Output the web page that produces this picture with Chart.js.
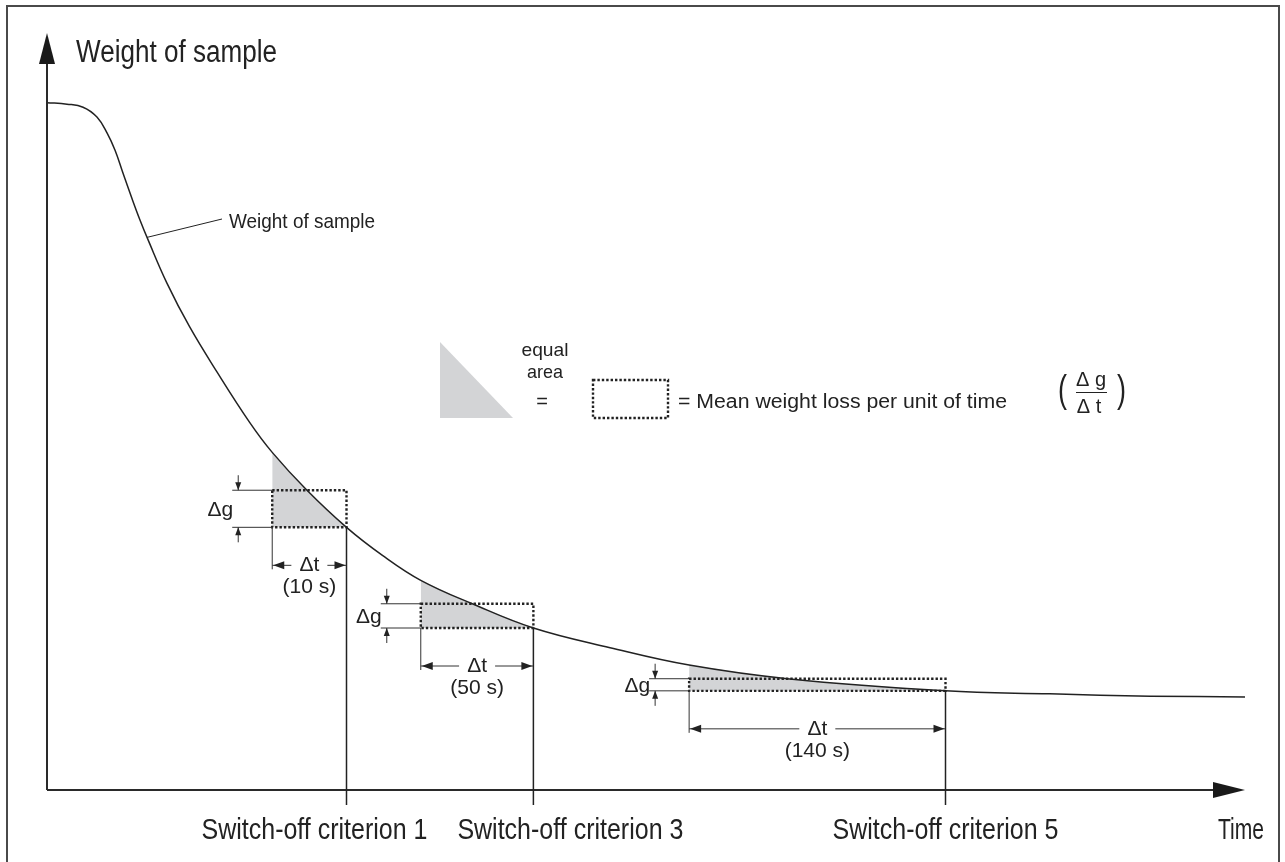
<!DOCTYPE html>
<html>
<head>
<meta charset="utf-8">
<title>Switch-off criteria</title>
<script src="https://cdn.jsdelivr.net/npm/chart.js@4"></script>
<style>
  html, body { margin: 0; padding: 0; background: #fff; }
  #wrap { width: 1285px; height: 862px; position: relative; }
</style>
</head>
<body>
<div id="wrap"><canvas id="chart"></canvas></div>
<script>
// drying curve (time / weight, arbitrary units)
const timeVals = [
  0, 1.67, 3.01, 4.17, 5.01, 5.68, 6.34, 7.10, 7.76, 8.43, 10.0, 11.9,
  14.2, 16.9, 18.8, 21.7, 25.0, 28.0, 31.2, 35.5, 40.6, 47.0, 53.6,
  61.8, 75.0, 83.7, 92.1, 100
];
const weightVals = [
  90.8, 90.6, 90.2, 88.9, 86.8, 84.5, 81.5, 78.1, 75.3, 72.7, 67.0, 61.2,
  55.2, 48.6, 44.6, 39.6, 34.7, 31.0, 27.7, 24.6, 21.4, 18.8, 16.5,
  14.7, 13.1, 12.7, 12.4, 12.3
];

// switch-off criteria
const criteria = [
  'Switch-off criterion 1',
  'Switch-off criterion 3',
  'Switch-off criterion 5'
];
const windowStart = [18.8, 31.2, 53.6];
const windowEnd = [25.0, 40.6, 75.0];
const meanLevel = [39.6, 24.6, 14.7];
const intervalLabels = ['(10 s)', '(50 s)', '(140 s)'];

const curvePoints = timeVals.map((t, i) => ({ x: t, y: weightVals[i] }));
const endLevel = windowEnd.map(t => weightVals[timeVals.indexOf(t)]);

const FONT = '"Liberation Sans", Arial, sans-serif';
const INK = '#222';

const fitText = (ctx, text, x, y, size, width, align) => {
  ctx.save();
  ctx.font = `${size}px ${FONT}`;
  const w = ctx.measureText(text).width;
  const s = width ? width / w : 1;
  ctx.translate(x, y);
  ctx.scale(s, 1);
  ctx.textAlign = align || 'left';
  ctx.textBaseline = 'middle';
  ctx.fillStyle = INK;
  ctx.fillText(text, 0, 0);
  ctx.restore();
};

const line = (ctx, x1, y1, x2, y2) => {
  ctx.beginPath();
  ctx.moveTo(x1, y1);
  ctx.lineTo(x2, y2);
  ctx.stroke();
};

// filled arrow head, tip at (x, y), pointing along (dx, dy)
const head = (ctx, x, y, dx, dy, len, half) => {
  const px = -dy, py = dx;
  ctx.beginPath();
  ctx.moveTo(x, y);
  ctx.lineTo(x - dx * len + px * half, y - dy * len + py * half);
  ctx.lineTo(x - dx * len - px * half, y - dy * len - py * half);
  ctx.closePath();
  ctx.fill();
};

const diagram = {
  id: 'diagram',
  afterDatasetsDraw(chart) {
    const ctx = chart.ctx;
    const xs = chart.scales.x;
    const ys = chart.scales.y;
    const X = v => xs.getPixelForValue(v);
    const Y = v => ys.getPixelForValue(v);

    ctx.save();
    ctx.fillStyle = INK;

    // frame
    ctx.strokeStyle = '#4a4a4a';
    ctx.lineWidth = 2;
    ctx.strokeRect(7, 6, 1272, 900);

    // axes
    const ox = X(0), oy = Y(0);
    ctx.strokeStyle = '#2a2a2a';
    ctx.lineWidth = 2;
    line(ctx, ox, oy, ox, Y(100) + 25);
    line(ctx, ox, oy, X(100) - 25, oy);
    ctx.fillStyle = '#1a1a1a';
    head(ctx, ox, Y(100), 0, -1, 31, 8);
    head(ctx, X(100), oy, 1, 0, 32, 8);

    fitText(ctx, 'Weight of sample', 76, 53, 31, 201, 'left');
    fitText(ctx, 'Time', 1218, 831, 30, 46, 'left');

    // curve label with leader
    ctx.strokeStyle = INK;
    ctx.lineWidth = 1;
    line(ctx, X(8.35), Y(73.0), 222, 219);
    fitText(ctx, 'Weight of sample', 229, 222, 21, 146, 'left');

    // key: triangle = dotted box
    ctx.fillStyle = '#d3d4d6';
    ctx.beginPath();
    ctx.moveTo(440, 342);
    ctx.lineTo(440, 418);
    ctx.lineTo(513, 418);
    ctx.closePath();
    ctx.fill();
    fitText(ctx, 'equal', 545, 351, 19, 47, 'center');
    fitText(ctx, 'area', 545, 373, 19, 36, 'center');
    fitText(ctx, '=', 542, 402, 20, null, 'center');

    ctx.strokeStyle = INK;
    ctx.lineWidth = 2.4;
    ctx.setLineDash([2.4, 2]);
    ctx.strokeRect(593, 380, 75, 38);
    ctx.setLineDash([]);

    fitText(ctx, '= Mean weight loss per unit of time', 678, 402, 20, 329, 'left');

    // Δg / Δt
    fitText(ctx, '(', 1058, 392, 38, 9, 'left');
    fitText(ctx, ')', 1126, 392, 38, 9, 'right');
    fitText(ctx, 'Δ g', 1091, 380, 20, null, 'center');
    fitText(ctx, 'Δ t', 1089, 407, 20, null, 'center');
    ctx.lineWidth = 1;
    line(ctx, 1076, 392.5, 1107, 392.5);

    // criteria
    const labelShift = [-32, 37, 0];

    criteria.forEach((name, i) => {
      const sx = X(windowStart[i]);
      const ex = X(windowEnd[i]);
      const my = Y(meanLevel[i]);
      const by = Y(endLevel[i]);

      // dotted mean box
      ctx.strokeStyle = INK;
      ctx.lineWidth = 2.4;
      ctx.setLineDash([2.4, 2]);
      ctx.beginPath();
      ctx.rect(sx, my, ex - sx, by - my);
      ctx.stroke();
      ctx.setLineDash([]);

      // Δg dimension
      const dx = sx - 34;
      ctx.strokeStyle = '#333';
      ctx.fillStyle = INK;
      ctx.lineWidth = 1;
      line(ctx, dx - 6, my, sx, my);
      line(ctx, dx - 6, by, sx, by);
      line(ctx, dx, my - 15, dx, my);
      line(ctx, dx, by + 15, dx, by);
      head(ctx, dx, my, 0, 1, 8, 3);
      head(ctx, dx, by, 0, -1, 8, 3);
      fitText(ctx, 'Δg', dx - 5, (my + by) / 2 + 1, 21, null, 'right');

      // Δt dimension
      const ay = by + 38;
      const mid = (sx + ex) / 2;
      line(ctx, sx, by, sx, ay + 4);
      line(ctx, sx, ay, mid - 18, ay);
      line(ctx, mid + 18, ay, ex, ay);
      head(ctx, sx + 1, ay, -1, 0, 11, 4);
      head(ctx, ex - 1, ay, 1, 0, 11, 4);
      fitText(ctx, 'Δt', mid, ay, 21, null, 'center');
      fitText(ctx, intervalLabels[i], mid, ay + 22, 21, null, 'center');

      // criterion marker down to the time axis
      ctx.strokeStyle = INK;
      ctx.lineWidth = 1.5;
      line(ctx, ex, by, ex, oy + 15);

      fitText(ctx, name, ex + labelShift[i], 831, 30, 226, 'center');
    });

    ctx.restore();
  }
};

const shaded = criteria.map((name, i) => ({
  label: name,
  data: curvePoints.filter(
    p => p.x >= windowStart[i] && p.x <= windowEnd[i]
  ),
  showLine: true,
  borderWidth: 0,
  pointRadius: 0,
  tension: 0.4,
  backgroundColor: '#d3d4d6',
  fill: { value: endLevel[i] },
}));

new Chart(
  document.getElementById('chart'),
  {
    type: 'scatter',
    data: {
      datasets: [
        {
          label: 'Weight of sample',
          data: curvePoints,
          showLine: true,
          borderColor: INK,
          borderWidth: 1.5,
          pointRadius: 0,
          tension: 0.4,
          fill: false,
        },
        ...shaded,
      ],
    },
    options: {
      responsive: true,
      maintainAspectRatio: false,
      animation: false,
      events: [],
      layout: {
        padding: { left: 47, right: 40, top: 33, bottom: 72 },
      },
      plugins: {
        legend: { display: false },
        tooltip: { enabled: false },
      },
      scales: {
        x: { type: 'linear', min: 0, max: 100, display: false },
        y: { type: 'linear', min: 0, max: 100, display: false },
      },
    },
    plugins: [diagram],
  }
);
</script>
</body>
</html>
